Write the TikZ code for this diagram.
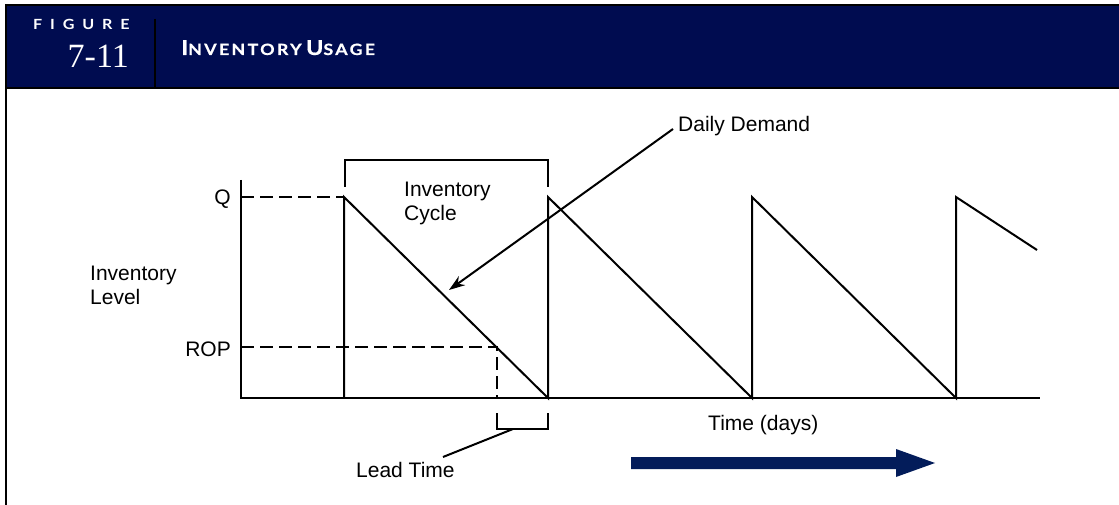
\documentclass[tikz,border=0pt]{standalone}
\usepackage{fontspec}
\setmainfont{Liberation Sans}
\newfontfamily\figsans[FakeStretch=1.15,LetterSpace=56]{Lato}
\newfontfamily\titlesans[FakeStretch=1.15,LetterSpace=15,FakeBold=0.6]{Lato}
\newfontfamily\headserif{Liberation Serif}
\usetikzlibrary{arrows.meta}
\definecolor{navy}{RGB}{0,12,80}
\definecolor{arrownavy}{RGB}{3,28,90}
\tikzset{
  frame/.style={line width=2.2pt},
  plotline/.style={line width=2pt},
  dashline/.style={line width=2pt, dash pattern=on 13pt off 6pt},
  lbl/.style={inner sep=0pt, font=\fontsize{21}{23.5}\selectfont},
  headtxt/.style={inner sep=0pt, text=white},
}
\begin{document}
\begin{tikzpicture}[x=1pt,y=-1pt]
\useasboundingbox (0,0) rectangle (1119,505);
% header
\fill[navy] (6,5) rectangle (1119,88);
\draw[frame] (1119,5) -- (6,5) -- (6,505);
\draw[frame] (6,88) -- (1119,88);
\draw[frame] (155,19) -- (155,88);
\node[headtxt, anchor=base west, font=\figsans\bfseries\fontsize{14}{14}\selectfont] (fig) at (33,30) {FIGURE};
\node[headtxt, anchor=base east, font=\headserif\fontsize{34}{34}\selectfont] (num) at (129,68) {7-11};
\node[headtxt, anchor=base west, font=\titlesans\bfseries] (title) at (181,55) {{\fontsize{20.5}{21}\selectfont I}{\fontsize{15.5}{16}\selectfont NVENTORY} {\fontsize{20.5}{21}\selectfont U}{\fontsize{15.5}{16}\selectfont SAGE}};
% axes
\draw[plotline] (241,180) -- (241,398) -- (1040,398);
% sawtooth
\draw[plotline] (344,398) -- (344,197) -- (548,398) -- (548,197) -- (752,398) -- (752,197) -- (956,398) -- (956,197) -- (1037,250);
% dashed guides
\draw[dashline] (241,197) -- (344,197);
\draw[dashline] (241,347) -- (497,347) -- (497,398);
% brackets
\draw[plotline] (345,187) -- (345,160) -- (548,160) -- (548,187);
\draw[plotline] (497,413) -- (497,429) -- (548,429) -- (548,413);
% labels
\node[lbl, anchor=base east] (q) at (231,205) {Q};
\node[lbl, anchor=base east] (rop) at (231,356) {ROP};
\node[lbl, anchor=north west, align=left] (invlevel) at (90,266) {Inventory\\Level};
\node[lbl, anchor=north west, align=left] (invcycle) at (404,182) {Inventory\\Cycle};
\node[lbl, anchor=base west] (dd) at (678,132) {Daily Demand};
\node[lbl, anchor=base west] (time) at (708,430) {Time (days)};
\node[lbl, anchor=base west] (lead) at (356,477) {Lead Time};
% connectors
\coordinate (ddstart) at (673,129);
\coordinate (ddtip) at (449,290);
\draw[plotline, -{Stealth[length=16pt,width=11pt]}] (ddstart) -- (ddtip);
\coordinate (ltbr) at (513,429);
\coordinate (ltend) at (443,457);
\draw[plotline] (ltbr) -- (ltend);
% time arrow
\fill[arrownavy] (631,457) -- (896,457) -- (896,449) -- (935,463) -- (896,477) -- (896,469) -- (631,469) -- cycle;
\end{tikzpicture}
\end{document}
